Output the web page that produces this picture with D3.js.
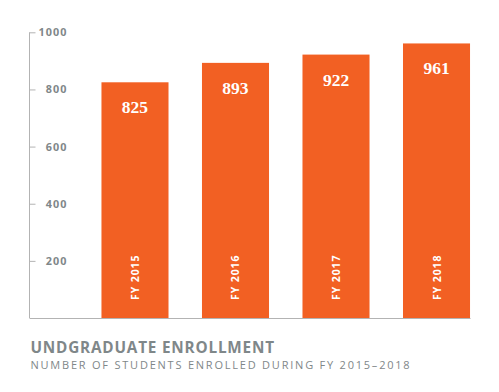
<!DOCTYPE html>
<html><head><meta charset="utf-8">
<script src="https://cdn.jsdelivr.net/npm/d3@7"></script>
<style>body{margin:0;background:#fff}svg{display:block}</style>
</head><body>
<script>
const categories = ["FY 2015", "FY 2016", "FY 2017", "FY 2018"];
const values = [825, 893, 922, 961];
const tickValues = [200, 400, 600, 800, 1000];
const title = "UNDGRADUATE ENROLLMENT";
const subtitle = "NUMBER OF STUDENTS ENROLLED DURING FY 2015\u20132018";

const W = 499, H = 392;
const orange = "#f26023", gray = "#7f8789", axisGray = "#b3b3b3";
const svg = d3.select("body").append("svg").attr("width", W).attr("height", H);

const y = d3.scaleLinear().domain([0, 1000]).range([318, 32.3]);
const x = d3.scaleBand().domain(categories).range([68, 503.5]).paddingInner(0.333).paddingOuter(0.333);
const axisX = 29.5;

// axis line and ticks
const yAxis = d3.axisRight(y).tickValues(tickValues).tickSize(6).tickFormat(d3.format("d"));
const ag = svg.append("g").attr("transform", `translate(${axisX},0)`).call(yAxis);
ag.select(".domain").remove();
ag.selectAll(".tick line").attr("stroke", axisGray);
ag.selectAll(".tick text").attr("x", 38).attr("text-anchor", "end")
  .attr("fill", gray).attr("font-family", "Open Sans, sans-serif").attr("font-weight", 700)
  .attr("font-size", 10.8).attr("letter-spacing", 1.1);
svg.append("line").attr("x1", axisX).attr("x2", axisX).attr("y1", y(1000)).attr("y2", y(0))
  .attr("stroke", axisGray);

// bars
svg.selectAll("rect.bar").data(values).join("rect").attr("class", "bar")
  .attr("x", (d, i) => x(categories[i])).attr("width", x.bandwidth())
  .attr("y", d => y(d)).attr("height", d => y(0) - y(d)).attr("fill", orange);

svg.append("line").attr("x1", axisX).attr("x2", x(categories[3]) + x.bandwidth() + 0.5)
  .attr("y1", y(0) + 0.5).attr("y2", y(0) + 0.5).attr("stroke", axisGray);

// value labels
svg.selectAll("text.val").data(values).join("text").attr("class", "val")
  .attr("x", (d, i) => x(categories[i]) + x.bandwidth() / 2).attr("y", d => y(d) + 31)
  .attr("text-anchor", "middle").attr("fill", "#fff")
  .attr("font-family", "Liberation Serif, serif").attr("font-weight", 700).attr("font-size", 17.5)
  .text(d => d);

// category labels rotated
svg.selectAll("text.cat").data(categories).join("text").attr("class", "cat")
  .attr("transform", d => `translate(${x(d) + x.bandwidth() / 2 + 4},${y(0) - 18}) rotate(-90)`)
  .attr("text-anchor", "start").attr("fill", "#fff")
  .attr("font-family", "Open Sans, sans-serif").attr("font-weight", 700).attr("font-size", 10.5)
  .attr("letter-spacing", 0.9).text(d => d);

// titles
svg.append("text").attr("x", 30.5).attr("y", 352.5).attr("fill", gray)
  .attr("font-family", "Open Sans, sans-serif").attr("font-weight", 700).attr("font-size", 15.3)
  .attr("letter-spacing", 0.8).text(title);
svg.append("text").attr("x", 30.5).attr("y", 368.5).attr("fill", gray)
  .attr("font-family", "Open Sans, sans-serif").attr("font-weight", 400).attr("font-size", 11)
  .attr("letter-spacing", 1.78).text(subtitle);
</script>
</body></html>
